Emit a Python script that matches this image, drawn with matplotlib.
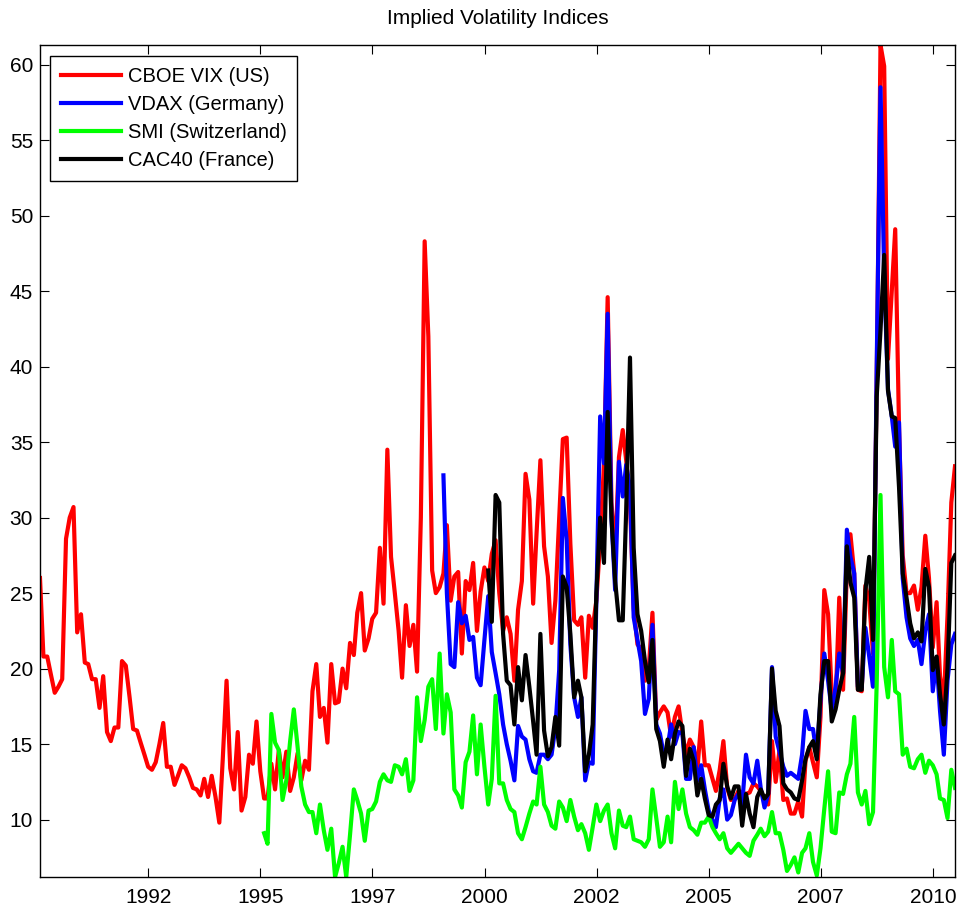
import matplotlib
matplotlib.use("Agg")
import matplotlib.pyplot as plt
import pandas as pd

plt.rcParams['font.family'] = ['Liberation Sans', 'DejaVu Sans']

# monthly values, Jan 1990 .. Jun 2010
vix_start = '1990-01'
vix = [26.0, 20.8, 20.8, 19.6, 18.4, 18.8, 19.3, 28.6, 30.0, 30.7,
       22.4, 23.6, 20.4, 20.3, 19.3, 19.3, 17.4, 19.5, 15.8, 15.2,
       16.1, 16.1, 20.5, 20.2, 18.1, 16.0, 15.9, 15.1, 14.3, 13.5,
       13.3, 13.8, 15.0, 16.4, 13.5, 13.5, 12.3, 12.9, 13.6, 13.4,
       12.8, 12.1, 12.0, 11.6, 12.7, 11.5, 12.9, 11.5, 9.8, 14.0,
       19.2, 13.4, 12.0, 15.8, 10.6, 11.5, 14.3, 13.7, 16.5, 13.2,
       11.4, 11.4, 13.7, 12.0, 14.6, 12.8, 14.5, 11.9, 12.8, 14.4,
       12.6, 13.9, 13.3, 18.5, 20.3, 16.8, 17.4, 15.1, 20.3, 17.7,
       17.8, 20.0, 18.7, 21.7, 20.9, 23.7, 25.0, 21.2, 22.0, 23.3,
       23.7, 28.0, 24.3, 34.5, 27.4, 25.0, 22.5, 19.4, 24.2, 21.5,
       22.9, 19.8, 30.0, 48.3, 42.0, 26.5, 25.0, 25.4, 26.3, 29.5,
       24.5, 26.1, 26.4, 21.0, 25.8, 25.2, 27.0, 22.5, 25.1, 26.7,
       25.8, 27.6, 28.5, 25.0, 22.5, 23.4, 22.3, 19.2, 23.9, 25.8,
       32.9, 31.2, 24.3, 29.0, 33.8, 28.1, 26.1, 21.7, 24.5, 30.0,
       35.2, 35.3, 28.3, 23.2, 22.9, 23.4, 19.4, 23.5, 22.7, 24.5,
       28.5, 33.5, 44.6, 31.0, 27.5, 34.0, 35.8, 33.8, 31.0, 24.0,
       21.6, 21.3, 19.2, 20.0, 23.7, 16.6, 17.1, 17.5, 17.1, 15.5,
       16.8, 17.5, 15.7, 14.3, 15.3, 14.8, 13.3, 16.5, 13.6, 13.6,
       12.7, 11.9, 13.3, 15.2, 12.1, 11.3, 11.4, 11.9, 11.8, 11.7,
       11.8, 12.4, 12.2, 11.9, 11.3, 11.0, 15.2, 12.5, 14.6, 11.3,
       11.4, 10.4, 10.4, 11.2, 10.2, 13.9, 14.8, 13.8, 12.8, 16.8,
       25.2, 23.6, 18.3, 17.7, 24.7, 18.6, 26.5, 28.9, 26.3, 18.6,
       18.5, 25.5, 24.5, 21.0, 39.0, 61.3, 59.9, 40.5, 45.0, 49.1,
       36.0, 27.5, 25.0, 25.0, 25.5, 23.9, 25.4, 28.8, 26.0, 21.4,
       24.4, 19.5, 17.9, 23.5, 31.0, 33.4]

vdax_start = '1999-01'
vdax = [32.8, 25.0, 20.3, 20.1, 24.4, 23.0, 23.5, 21.9, 22.1, 19.4,
        18.9, 21.9, 24.8, 21.1, 19.7, 18.3, 16.3, 15.0, 13.9, 12.6,
        16.2, 15.5, 15.3, 14.0, 13.2, 13.1, 14.3, 14.3, 14.0, 14.3,
        16.1, 19.9, 31.3, 28.5, 21.6, 18.1, 16.8, 18.1, 12.6, 13.8,
        13.7, 24.5, 36.7, 33.6, 43.5, 30.0, 25.2, 33.7, 31.4, 33.5,
        32.0, 23.4, 21.9, 20.5, 17.0, 18.0, 22.9, 16.3, 15.7, 14.3,
        14.8, 16.3, 15.0, 15.8, 15.7, 12.7, 12.7, 14.8, 12.6, 13.6,
        12.0, 10.6, 10.0, 9.5, 11.4, 12.0, 10.0, 10.3, 11.3, 11.7,
        11.0, 14.3, 12.8, 12.4, 13.9, 12.1, 10.8, 11.7, 20.1, 15.5,
        14.5, 13.5, 12.9, 13.1, 12.9, 12.7, 14.3, 17.2, 16.0, 16.0,
        14.3, 17.9, 21.0, 19.2, 17.2, 18.8, 21.0, 19.7, 29.2, 27.4,
        26.3, 18.8, 18.8, 22.7, 20.8, 18.8, 40.0, 58.5, 46.0, 38.5,
        36.7, 34.7, 36.3, 26.0, 23.4, 22.0, 21.5, 21.9, 20.3, 22.5,
        23.6, 18.5, 20.5, 17.2, 14.3, 19.2, 21.6, 22.3]

smi_start = '1995-01'
smi = [9.1, 8.4, 17.0, 15.1, 14.6, 11.3, 12.6, 15.2, 17.3, 14.8,
       12.2, 11.0, 10.5, 10.5, 9.1, 11.0, 9.3, 8.0, 9.4, 6.2,
       7.1, 8.2, 6.2, 9.0, 12.0, 11.3, 10.4, 8.6, 10.6, 10.7,
       11.2, 12.5, 13.0, 12.6, 12.5, 13.6, 13.5, 13.0, 14.0, 11.9,
       12.6, 18.1, 15.2, 16.6, 18.8, 19.3, 16.0, 21.0, 15.7, 18.3,
       17.1, 12.0, 11.6, 10.8, 13.8, 14.5, 16.9, 13.0, 16.3, 13.5,
       11.0, 12.7, 18.2, 12.4, 12.4, 11.3, 10.7, 10.5, 9.1, 8.7,
       9.5, 10.4, 11.2, 11.0, 13.5, 11.0, 10.5, 9.6, 9.4, 11.2,
       10.8, 9.9, 11.3, 10.2, 9.3, 9.7, 9.1, 8.0, 9.5, 11.0,
       9.9, 10.6, 11.0, 9.1, 8.1, 10.6, 9.6, 9.5, 10.2, 8.7,
       8.6, 8.5, 8.2, 8.7, 12.0, 10.1, 8.2, 8.5, 10.2, 8.5,
       12.5, 10.7, 12.0, 10.4, 9.5, 9.3, 9.0, 9.8, 9.8, 10.2,
       9.5, 9.1, 8.7, 9.1, 8.1, 7.8, 8.1, 8.4, 8.1, 7.8,
       7.6, 8.6, 9.0, 9.4, 8.9, 9.2, 10.5, 9.1, 9.1, 8.0,
       6.6, 7.0, 7.5, 6.5, 7.8, 8.1, 9.1, 7.2, 6.3, 8.1,
       10.7, 13.2, 9.2, 9.1, 11.8, 11.7, 13.0, 13.7, 16.8, 11.8,
       11.0, 11.9, 9.7, 10.5, 19.0, 31.5, 20.1, 18.1, 21.9, 18.5,
       18.3, 14.3, 14.7, 13.5, 13.4, 14.0, 14.3, 13.1, 13.9, 13.6,
       13.0, 11.4, 11.3, 10.1, 13.3, 12.1]

cac_start = '2000-01'
cac = [26.5, 23.1, 31.5, 31.0, 22.3, 19.2, 18.9, 16.3, 20.1, 17.9,
       20.9, 18.8, 16.5, 14.3, 22.3, 15.9, 14.2, 14.8, 16.8, 14.9,
       26.1, 25.4, 22.3, 18.1, 19.2, 18.1, 13.2, 14.3, 16.3, 25.0,
       30.0, 27.0, 37.0, 30.0, 25.8, 23.2, 23.2, 30.5, 40.6, 28.0,
       23.6, 22.5, 20.5, 19.1, 21.9, 16.0, 15.2, 13.5, 15.3, 14.0,
       15.7, 16.5, 16.2, 12.9, 14.7, 13.9, 11.6, 12.7, 11.4, 10.3,
       10.2, 11.0, 11.3, 13.7, 12.2, 11.4, 12.2, 12.2, 9.6, 11.7,
       10.4, 9.5, 11.5, 12.0, 11.4, 11.7, 20.0, 17.2, 16.2, 12.4,
       12.0, 11.8, 11.4, 11.3, 12.6, 14.0, 14.8, 15.2, 14.0, 18.3,
       20.5, 20.5, 16.5, 17.3, 18.6, 19.7, 28.1, 25.7, 24.7, 18.6,
       18.6, 25.2, 27.4, 21.9, 38.0, 42.4, 47.4, 38.4, 36.7, 36.6,
       32.0, 26.3, 24.7, 23.0, 22.0, 22.4, 21.8, 26.6, 25.4, 19.9,
       20.8, 18.3, 16.3, 20.0, 27.0, 27.5]

series_names = ['CBOE VIX (US)', 'VDAX (Germany)', 'SMI (Switzerland)', 'CAC40 (France)']
series_colors = ['#ff0000', '#0000ff', '#00ff00', '#000000']

tick_dates = ['1992-07-01', '1995-01-01', '1997-07-02', '2000-01-01',
              '2002-07-02', '2005-01-01', '2007-07-02', '2010-01-01']
tick_labels = ['1992', '1995', '1997', '2000', '2002', '2005', '2007', '2010']
y_ticks = [10, 15, 20, 25, 30, 35, 40, 45, 50, 55, 60]


def month_ends(start, n):
    return pd.date_range(start=pd.Period(start, 'M').end_time.normalize(), periods=n, freq='ME')


fig = plt.figure(figsize=(9.58, 9.09), dpi=100)
ax = fig.add_axes([40 / 958, 32 / 909, 915 / 958, 832 / 909])

all_vals = []
for (start, vals), name, col in zip([(vix_start, vix), (vdax_start, vdax), (smi_start, smi), (cac_start, cac)],
                                    series_names, series_colors):
    d = month_ends(start, len(vals))
    ax.plot(d.to_pydatetime(), vals, color=col, lw=3, label=name)
    all_vals += vals

d0 = month_ends(vix_start, len(vix))
ax.set_xlim(d0[0].to_pydatetime(), d0[-1].to_pydatetime())
ax.set_ylim(min(all_vals), max(all_vals))

ax.set_xticks(pd.to_datetime(tick_dates).to_pydatetime())
ax.set_xticklabels(tick_labels)
ax.set_yticks(y_ticks)
ax.tick_params(direction='in', top=True, right=True, length=6.5, width=0.8,
               labelsize=15, colors='black')
ax.tick_params(axis='x', pad=8)
ax.tick_params(axis='y', pad=5)
for s in ax.spines.values():
    s.set_linewidth(1.0)

ax.set_title('Implied Volatility Indices', fontsize=15, pad=15)

leg = ax.legend(loc='upper left', bbox_to_anchor=(10 / 915, 1 - 11 / 832), borderaxespad=0,
                fontsize=14.5, handlelength=3.0, handletextpad=0.3, labelspacing=0.45,
                borderpad=0.55, fancybox=False, framealpha=1, edgecolor='black')
leg.get_frame().set_linewidth(1.0)

fig.savefig('out.png', dpi=100)
